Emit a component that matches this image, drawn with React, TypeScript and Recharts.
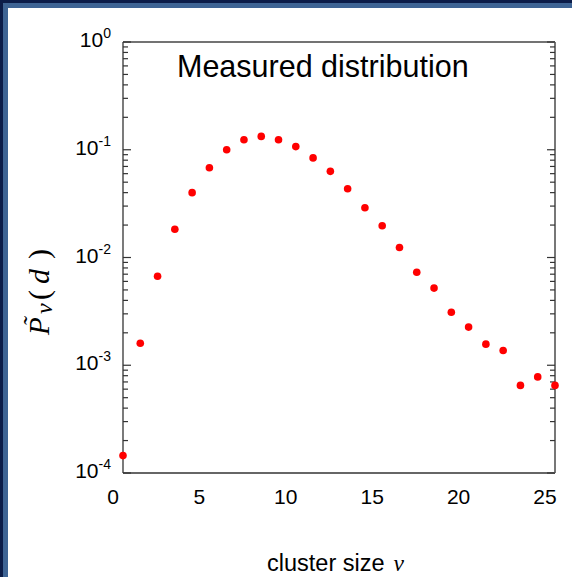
import React from 'react';
import { ScatterChart, Scatter, XAxis, YAxis, Label } from 'recharts';

const clusterSize = [0, 1, 2, 3, 4, 5, 6, 7, 8, 9, 10, 11, 12, 13, 14, 15, 16, 17, 18, 19, 20, 21, 22, 23, 24, 25];
const probability = [
  1.45e-4, 1.6e-3, 6.7e-3, 1.83e-2, 4.0e-2, 6.8e-2, 1.0e-1, 1.24e-1, 1.33e-1, 1.24e-1,
  1.07e-1, 8.4e-2, 6.3e-2, 4.35e-2, 2.9e-2, 1.97e-2, 1.24e-2, 7.3e-3, 5.2e-3, 3.1e-3,
  2.26e-3, 1.57e-3, 1.37e-3, 6.5e-4, 7.8e-4, 6.5e-4,
];

const xTicks = [0, 5, 10, 15, 20, 25];
const xMinorTicks = [1, 2, 3, 4, 6, 7, 8, 9, 11, 12, 13, 14, 16, 17, 18, 19, 21, 22, 23, 24];
const yTicks = [1e-4, 1e-3, 1e-2, 1e-1, 1];
const yMinorTicks = [
  2e-4, 3e-4, 4e-4, 5e-4, 6e-4, 7e-4, 8e-4, 9e-4,
  2e-3, 3e-3, 4e-3, 5e-3, 6e-3, 7e-3, 8e-3, 9e-3,
  2e-2, 3e-2, 4e-2, 5e-2, 6e-2, 7e-2, 8e-2, 9e-2,
  2e-1, 3e-1, 4e-1, 5e-1, 6e-1, 7e-1, 8e-1, 9e-1,
];

const W = 572;
const H = 577;
const SANS = '"Liberation Sans", Arial, sans-serif';
const SERIF = '"Liberation Serif", "Times New Roman", serif';
const THIN = 0.01; // mirrored tick-only axes take no room
const TICK_LINE = { stroke: '#333', strokeWidth: 1.2 };

const data = clusterSize.map((nu, i) => ({ nu, p: probability[i] }));

const NoLabel = () => <g />;

const XTick = (props: any) => {
  const { x, y, payload } = props;
  return (
    <text x={x - 10} y={y + 31} textAnchor="middle" fontFamily={SANS} fontSize={21} fill="#000">
      {payload.value}
    </text>
  );
};

const YTick = (props: any) => {
  const { x, y, payload } = props;
  const exp = Math.round(Math.log10(payload.value));
  return (
    <text x={x} y={y + 5} textAnchor="end" fontFamily={SANS} fontSize={21} fill="#000">
      10
      <tspan dy={-9} fontSize={14}>{exp}</tspan>
    </text>
  );
};

const Dot = (props: any) => <circle cx={props.cx} cy={props.cy} r={3.8} fill="#ff0000" />;

const TitleLabel = (props: any) => {
  const vb = props.viewBox ?? { x: 123, y: 42 };
  return (
    <text x={vb.x + 54} y={vb.y + 35} fontFamily={SANS} fontSize={30.5} fill="#000">
      Measured distribution
    </text>
  );
};

const XLabel = (props: any) => {
  const vb = props.viewBox ?? { x: 123, y: 473 };
  return (
    <text x={vb.x + 144} y={vb.y + 98} fontFamily={SANS} fontSize={23.5} fill="#000">
      cluster size
      <tspan dx={9} fontFamily={SERIF} fontStyle="italic">ν</tspan>
    </text>
  );
};

const YLabel = (props: any) => {
  const vb = props.viewBox ?? { x: 0, y: 42 };
  return (
    <g transform={`translate(${vb.x + 49}, ${vb.y + 293}) rotate(-90)`} fontFamily={SERIF} fontStyle="italic" fill="#000">
      <text x={0} y={0} fontSize={29}>P</text>
      <text x={13} y={-8} fontSize={26} textAnchor="middle">˜</text>
      <text x={21} y={3} fontSize={24}>ν</text>
      <text x={35} y={0} fontSize={30} fontStyle="normal">(</text>
      <text x={51} y={0} fontSize={30}>d</text>
      <text x={76} y={0} fontSize={30} fontStyle="normal">)</text>
    </g>
  );
};

export default function App() {
  return (
    <div
      style={{
        position: 'absolute', left: 0, top: 0, width: W, height: H, background: '#fff',
        boxShadow: 'inset 3px 3px 0 #0b1c48, inset 8px 8px 0 #3e6494',
      }}
    >
      <ScatterChart width={W} height={H} margin={{ top: 42, right: 17, bottom: 0, left: 0 }}>
        {/* main axes with labels */}
        <XAxis
          xAxisId="x" dataKey="nu" type="number" domain={[0, 25]} ticks={xTicks} tickCount={6}
          interval={0} height={104} tickSize={0} tickMargin={0} tick={XTick}
          axisLine={{ stroke: '#333', strokeWidth: 1.3 }} tickLine={false}
        >
          <Label content={XLabel} />
        </XAxis>
        <YAxis
          yAxisId="y" dataKey="p" type="number" scale="log" domain={[1e-4, 1]} ticks={yTicks}
          interval={0} width={123} tickSize={0} tickMargin={12} tick={YTick}
          axisLine={{ stroke: '#333', strokeWidth: 1.3 }} tickLine={false}
        >
          <Label content={YLabel} />
        </YAxis>

        {/* inward tick marks, bottom */}
        <XAxis xAxisId="bMaj" type="number" domain={[0, 25]} allowDataOverflow ticks={xTicks} tickCount={6}
          interval={0} orientation="bottom" mirror height={THIN} tick={NoLabel} axisLine={false}
          tickSize={6} tickLine={TICK_LINE} />
        <XAxis xAxisId="bMin" type="number" domain={[0, 25]} allowDataOverflow ticks={xMinorTicks} tickCount={6}
          interval={0} orientation="bottom" mirror height={THIN} tick={NoLabel} axisLine={false}
          tickSize={3} tickLine={TICK_LINE} />
        {/* top */}
        <XAxis xAxisId="tMaj" type="number" domain={[0, 25]} allowDataOverflow ticks={xTicks} tickCount={6}
          interval={0} orientation="top" mirror height={THIN} tick={NoLabel}
          axisLine={{ stroke: '#444', strokeWidth: 1.5 }}
          tickSize={6} tickLine={TICK_LINE}>
          <Label content={TitleLabel} />
        </XAxis>
        <XAxis xAxisId="tMin" type="number" domain={[0, 25]} allowDataOverflow ticks={xMinorTicks} tickCount={6}
          interval={0} orientation="top" mirror height={THIN} tick={NoLabel} axisLine={false}
          tickSize={3} tickLine={TICK_LINE} />
        {/* left */}
        <YAxis yAxisId="lMaj" type="number" scale="log" domain={[1e-4, 1]} allowDataOverflow ticks={yTicks}
          interval={0} orientation="left" mirror width={THIN} tick={NoLabel} axisLine={false}
          tickSize={8} tickLine={TICK_LINE} />
        <YAxis yAxisId="lMin" type="number" scale="log" domain={[1e-4, 1]} allowDataOverflow ticks={yMinorTicks}
          interval={0} orientation="left" mirror width={THIN} tick={NoLabel} axisLine={false}
          tickSize={5} tickLine={TICK_LINE} />
        {/* right */}
        <YAxis yAxisId="rMaj" type="number" scale="log" domain={[1e-4, 1]} allowDataOverflow ticks={yTicks}
          interval={0} orientation="right" mirror width={THIN} tick={NoLabel}
          axisLine={{ stroke: '#777', strokeWidth: 2 }}
          tickSize={8} tickLine={TICK_LINE} />
        <YAxis yAxisId="rMin" type="number" scale="log" domain={[1e-4, 1]} allowDataOverflow ticks={yMinorTicks}
          interval={0} orientation="right" mirror width={THIN} tick={NoLabel} axisLine={false}
          tickSize={5} tickLine={TICK_LINE} />

        <Scatter xAxisId="x" yAxisId="y" data={data} shape={Dot} isAnimationActive={false} />
      </ScatterChart>
    </div>
  );
}
